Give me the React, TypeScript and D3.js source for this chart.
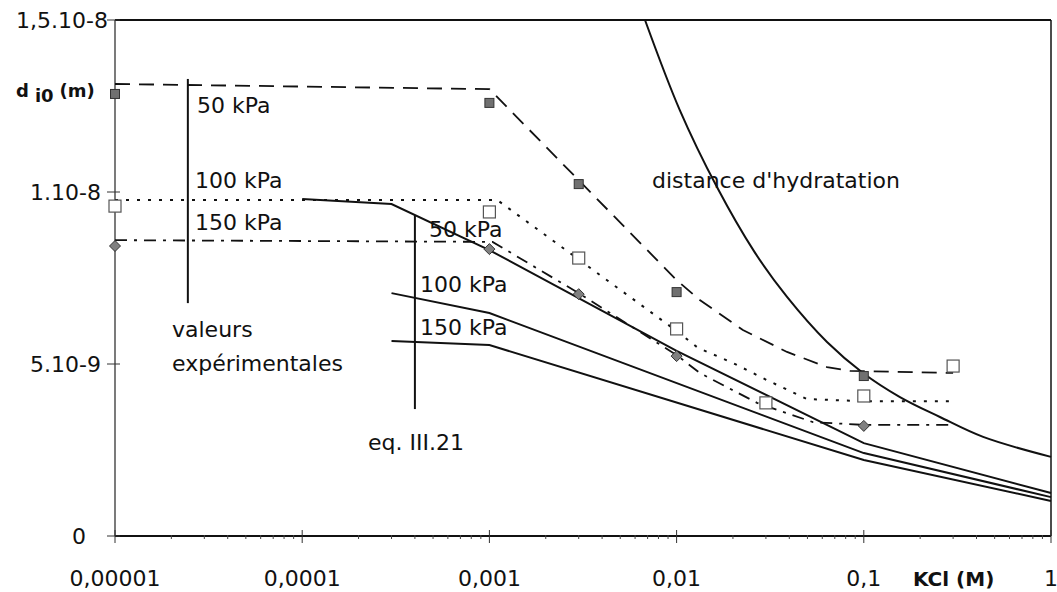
import React from "react";
import * as d3 from "d3";

const W = 1057;
const H = 592;

// Axes
const X_TICKS = [1e-5, 1e-4, 1e-3, 1e-2, 1e-1, 1];
const X_TICK_LABELS = ["0,00001", "0,0001", "0,001", "0,01", "0,1", "1"];
const Y_TICKS = [0, 5e-9, 1e-8, 1.5e-8];
const Y_TICK_LABELS = ["0", "5.10-9", "1.10-8", "1,5.10-8"];

// Experimental fits (dashed 50 kPa, dotted 100 kPa, dash-dot 150 kPa)
const FIT50_X = [1e-5, 0.001, 0.01, 0.0133, 0.0226, 0.0389, 0.0636, 0.0844, 0.3];
const FIT50_Y = [1.314e-8, 1.299e-8, 7.44e-9, 6.86e-9, 5.99e-9, 5.35e-9, 4.91e-9, 4.8e-9, 4.74e-9];
const FIT100_X = [1e-5, 0.0011, 0.01, 0.013, 0.02, 0.0304, 0.0498, 0.1, 0.3];
const FIT100_Y = [9.77e-9, 9.77e-9, 5.96e-9, 5.47e-9, 5.03e-9, 4.53e-9, 3.98e-9, 3.92e-9, 3.92e-9];
const FIT150_X = [1e-5, 0.00104, 0.003, 0.01, 0.0133, 0.0269, 0.0535, 0.1, 0.3];
const FIT150_Y = [8.6e-9, 8.55e-9, 7.06e-9, 5.26e-9, 4.74e-9, 3.87e-9, 3.31e-9, 3.23e-9, 3.23e-9];

// Theory eq. III.21
const TH50_X = [1e-4, 3e-4, 1e-3, 1e-2, 1e-1, 1];
const TH50_Y = [9.8e-9, 9.65e-9, 8.31e-9, 5.38e-9, 2.7e-9, 1.25e-9];
const TH100_X = [3e-4, 1e-3, 1e-1, 1];
const TH100_Y = [7.06e-9, 6.48e-9, 2.41e-9, 1.13e-9];
const TH150_X = [3e-4, 1e-3, 1e-1, 1];
const TH150_Y = [5.67e-9, 5.55e-9, 2.21e-9, 1.02e-9];

// Hydration distance
const HYD_X = [0.00678, 0.0104, 0.0164, 0.0259, 0.0389, 0.0636, 0.099, 0.156, 0.255, 0.434, 1];
const HYD_Y = [1.5e-8, 1.238e-8, 1.015e-8, 8.28e-9, 6.95e-9, 5.64e-9, 4.74e-9, 4.04e-9, 3.46e-9, 2.88e-9, 2.3e-9];

// Measured points
const P50_X = [1e-5, 0.001, 0.003, 0.01, 0.1];
const P50_Y = [1.285e-8, 1.259e-8, 1.023e-8, 7.09e-9, 4.65e-9];
const P100_X = [1e-5, 0.001, 0.003, 0.01, 0.03, 0.1, 0.3];
const P100_Y = [9.59e-9, 9.42e-9, 8.08e-9, 6.02e-9, 3.87e-9, 4.07e-9, 4.94e-9];
const P150_X = [1e-5, 0.001, 0.003, 0.01, 0.1];
const P150_Y = [8.43e-9, 8.34e-9, 7.03e-9, 5.23e-9, 3.2e-9];

// Annotation bracket lines
const BRACKET_EXP = { x: 2.45e-5, y0: 1.3286e-8, y1: 6.77e-9 };
const BRACKET_EQ = { x: 4e-4, y0: 9.33e-9, y1: 3.69e-9 };

const FONT = "'DejaVu Sans', Verdana, sans-serif";

function zip(xs: number[], ys: number[]): [number, number][] {
  return xs.map((x, i) => [x, ys[i]]);
}

export default function App() {
  const left = 115, right = 1051, top = 20, bottom = 536;
  const x = d3.scaleLog().domain([1e-5, 1]).range([left, right]);
  const y = d3.scaleLinear().domain([0, 1.5e-8]).range([bottom, top]);

  const lineLin = d3.line<[number, number]>().x(d => x(d[0])).y(d => y(d[1]));
  const lineCR = d3.line<[number, number]>().x(d => x(d[0])).y(d => y(d[1])).curve(d3.curveCatmullRom.alpha(0.5));

  const minorTicks: number[] = [];
  for (let e = -5; e < 0; e++) {
    for (let k = 2; k <= 9; k++) minorTicks.push(k * Math.pow(10, e));
  }

  const yLabelEnd: Record<string, number> = { "0": 86, "5.10-9": 101, "1.10-8": 101, "1,5.10-8": 108 };

  const stroke = "#111";

  return (
    <div style={{ position: "absolute", left: 0, top: 0 }}>
      <svg width={W} height={H} style={{ display: "block", background: "#fff" }}>
        <rect width={W} height={H} fill="#fff" />
        {/* frame */}
        <line x1={left} y1={top} x2={right} y2={top} stroke={stroke} strokeWidth={2} />
        <line x1={right} y1={top} x2={right} y2={bottom} stroke={stroke} strokeWidth={1.5} />
        <line x1={left} y1={top} x2={left} y2={bottom} stroke="#333" strokeWidth={1.3} />
        <line x1={left} y1={bottom} x2={right} y2={bottom} stroke={stroke} strokeWidth={2} />

        {/* y ticks */}
        {Y_TICKS.map((t, i) => (
          <g key={"yt" + i}>
            <line x1={left - 8} x2={left + 5} y1={y(t)} y2={y(t)} stroke="#333" strokeWidth={1} />
            <text
              x={yLabelEnd[Y_TICK_LABELS[i]]}
              y={y(t) + 8}
              textAnchor="end"
              fontFamily={FONT}
              fontSize={22}
              fill="#111"
            >
              {Y_TICK_LABELS[i]}
            </text>
          </g>
        ))}

        {/* x ticks */}
        {X_TICKS.map((t, i) => (
          <g key={"xt" + i}>
            <line x1={x(t)} x2={x(t)} y1={bottom - 6} y2={bottom + 7} stroke="#333" strokeWidth={1} />
            <text x={x(t)} y={586} textAnchor="middle" fontFamily={FONT} fontSize={22} fill="#111">
              {X_TICK_LABELS[i]}
            </text>
          </g>
        ))}
        {minorTicks.map((t, i) => (
          <line key={"mt" + i} x1={x(t)} x2={x(t)} y1={bottom - 1} y2={bottom + 3} stroke="#444" strokeWidth={1} />
        ))}

        {/* axis titles */}
        <text x={913} y={586} fontFamily={FONT} fontSize={20} fontWeight="bold" fill="#111">
          KCl (M)
        </text>
        <text x={16} y={97} fontFamily={FONT} fontSize={18} fontWeight="bold" fill="#111">
          d
          <tspan dx={6} dy={5}>i0</tspan>
          <tspan dx={6} dy={-5}>(m)</tspan>
        </text>

        {/* hydration curve */}
        <path d={lineCR(zip(HYD_X, HYD_Y)) || ""} fill="none" stroke={stroke} strokeWidth={2} />

        {/* theory lines */}
        <path d={lineLin(zip(TH50_X, TH50_Y)) || ""} fill="none" stroke={stroke} strokeWidth={2} />
        <path d={lineLin(zip(TH100_X, TH100_Y)) || ""} fill="none" stroke={stroke} strokeWidth={2} />
        <path d={lineLin(zip(TH150_X, TH150_Y)) || ""} fill="none" stroke={stroke} strokeWidth={2} />

        {/* fits */}
        <path d={lineLin(zip(FIT50_X, FIT50_Y)) || ""} fill="none" stroke={stroke} strokeWidth={1.8} strokeDasharray="15,9" />
        <path d={lineLin(zip(FIT100_X, FIT100_Y)) || ""} fill="none" stroke={stroke} strokeWidth={2} strokeDasharray="3,8" />
        <path d={lineLin(zip(FIT150_X, FIT150_Y)) || ""} fill="none" stroke={stroke} strokeWidth={1.8} strokeDasharray="12,7,3,7" />

        {/* bracket lines */}
        <line x1={x(BRACKET_EXP.x)} x2={x(BRACKET_EXP.x)} y1={y(BRACKET_EXP.y0)} y2={y(BRACKET_EXP.y1)} stroke={stroke} strokeWidth={2} />
        <line x1={x(BRACKET_EQ.x)} x2={x(BRACKET_EQ.x)} y1={y(BRACKET_EQ.y0)} y2={y(BRACKET_EQ.y1)} stroke={stroke} strokeWidth={2} />

        {/* markers */}
        {zip(P50_X, P50_Y).map((d, i) => (
          <rect key={"p50" + i} x={x(d[0]) - 4.5} y={y(d[1]) - 4.5} width={9} height={9} fill="#707070" stroke="#333" strokeWidth={1} />
        ))}
        {zip(P100_X, P100_Y).map((d, i) => (
          <rect key={"p100" + i} x={x(d[0]) - 6} y={y(d[1]) - 6} width={12} height={12} fill="#fff" stroke="#555" strokeWidth={1.2} />
        ))}
        {zip(P150_X, P150_Y).map((d, i) => (
          <path
            key={"p150" + i}
            d={`M${x(d[0])},${y(d[1]) - 5.5}L${x(d[0]) + 5.5},${y(d[1])}L${x(d[0])},${y(d[1]) + 5.5}L${x(d[0]) - 5.5},${y(d[1])}Z`}
            fill="#808080"
            stroke="#333"
            strokeWidth={1}
          />
        ))}

        {/* annotation texts */}
        <g fontFamily={FONT} fontSize={22} fill="#111">
          <text x={197} y={113}>50 kPa</text>
          <text x={195} y={188}>100 kPa</text>
          <text x={195} y={230}>150 kPa</text>
          <text x={172} y={337}>valeurs</text>
          <text x={172} y={371}>expérimentales</text>
          <text x={429} y={237}>50 kPa</text>
          <text x={420} y={292}>100 kPa</text>
          <text x={420} y={335}>150 kPa</text>
          <text x={368} y={450}>eq. III.21</text>
          <text x={652} y={188}>distance d'hydratation</text>
        </g>
      </svg>
    </div>
  );
}
